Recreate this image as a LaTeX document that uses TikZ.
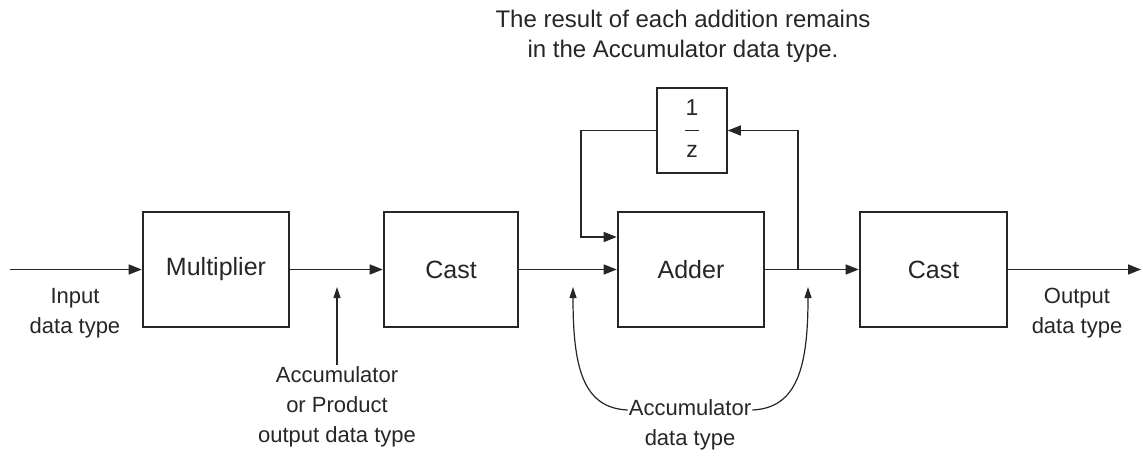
\documentclass[tikz,border=0pt]{standalone}
\usepackage{fontspec}
\setmainfont{Liberation Sans}
\usetikzlibrary{arrows.meta}
\begin{document}
\begin{tikzpicture}[x=1pt,y=-1pt,
  blk/.style={draw=black!85,line width=2.6pt,minimum width=#1,minimum height=115pt,inner sep=0pt,text=black!85,font=\fontsize{25}{30}\selectfont},
  dly/.style={draw=black!85,line width=1.5pt,minimum width=70pt,minimum height=85pt,inner sep=0pt,text=black!85,font=\fontsize{23}{28}\selectfont},
  lbl/.style={align=center,inner sep=1pt,text=black!85,font=\fontsize{22}{30}\selectfont},
  ttl/.style={align=center,inner sep=1pt,text=black!85,font=\fontsize{24}{30}\selectfont},
  wire/.style={draw=black!85,line width=1.5pt,-{Triangle[length=13pt,width=10pt]}},
  note/.style={draw=black!85,line width=1.2pt,-{Triangle[length=11pt,width=7pt]}}]
\useasboundingbox (0,0) rectangle (1143,461);
% blocks
\node[blk=146pt] (mult) at (216,269.5) {Multiplier};
\node[blk=134pt] (cast1) at (451,269.5) {Cast};
\node[blk=146pt] (adder) at (691,269.5) {Adder};
\node[blk=147pt] (cast2) at (933.5,269.5) {Cast};
\node[dly] (delay) at (692,130.5) {\begin{tabular}{@{}c@{}}1\\[-6pt]\rule[6pt]{14pt}{1.3pt}\\[-8pt]z\end{tabular}};
% coordinates
\coordinate (in) at (10,269.5);
\coordinate (out) at (1141,269.5);
\coordinate (br) at (798,269.5);
\coordinate (fbx) at (581,130.5);
\coordinate (fbin) at ([yshift=32.5pt]adder.west);
% main wires
\draw[wire] (in) -- (mult.west);
\draw[wire] (mult.east) -- (cast1.west);
\draw[wire] (cast1.east) -- (adder.west);
\draw[wire] (adder.east) -- (cast2.west);
\draw[wire] (cast2.east) -- (out);
% feedback
\draw[wire] (br) |- (delay.east);
\draw[wire] (delay.west) -- (fbx) |- (fbin);
% labels
\node[lbl] (inl) at (75,313) {Input\\data type};
\node[lbl] (outl) at (1077,313) {Output\\data type};
\node[ttl] (top) at (683,36) {The result of each addition remains\\in the Accumulator data type.};
\node[lbl,anchor=north] (accprod) at (337,365) {Accumulator\\or Product\\output data type};
\node[lbl] (accdt) at (690,425) {Accumulator\\data type};
\coordinate (t1) at (337,287);
\coordinate (t2) at (573,287);
\coordinate (t3) at (808,287);
\draw[note] (accprod.north) -- (t1);
\draw[note] ([yshift=15pt]accdt.west) .. controls +(-45pt,2pt) and +(0pt,-80pt) .. (t2);
\draw[note] ([yshift=15pt]accdt.east) .. controls +(45pt,2pt) and +(0pt,-80pt) .. (t3);
\end{tikzpicture}
\end{document}
